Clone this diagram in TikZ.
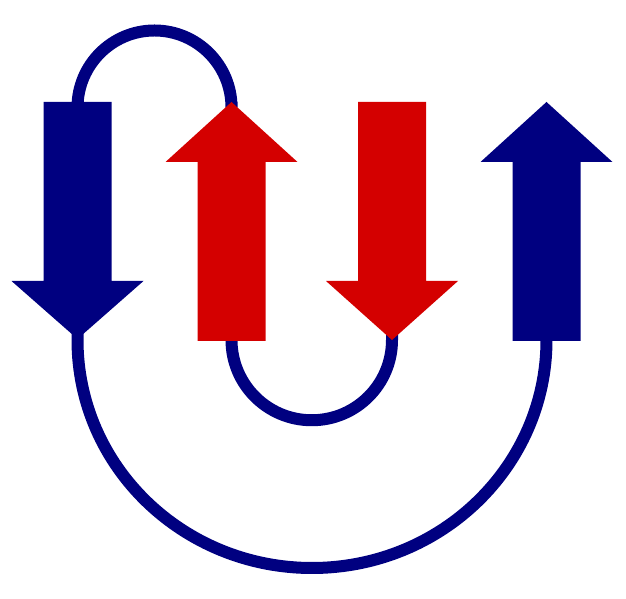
\documentclass[tikz,border=0pt]{standalone}
\usepackage{tikz}
\definecolor{navy}{RGB}{0,0,128}
\definecolor{strandred}{RGB}{212,0,0}
\begin{document}
\begin{tikzpicture}[x=1pt,y=1pt,
        strand/.style={fill=#1,draw=none},
        loop/.style={draw=navy,line width=12pt}]
\useasboundingbox (0,0) rectangle (626,599);

% ends of the strands
\coordinate (s1-n) at (77.5,497);
\coordinate (s1-s) at (77.5,260);
\coordinate (s2-n) at (231.5,497);
\coordinate (s2-s) at (231.5,259);
\coordinate (s3-s) at (392,259);
\coordinate (s4-s) at (546.5,258);

% loops
\draw[loop] (s1-n) -- ++(0,-5.5) arc[start angle=180,end angle=0,radius=77] -- (s2-n);
\draw[loop] (s2-s) ++(0,10) -- (s2-s) arc[start angle=180,end angle=360,radius=80.25]
    -- (s3-s) -- ++(0,20);
\draw[loop] (s1-s) ++(0,20) -- (s1-s) -- ++(0,-1)
    arc[start angle=180,end angle=360,x radius=234.5,y radius=228] -- (s4-s) -- ++(0,10);

% strands
\fill[strand=navy] (43.5,497) -- (111.5,497) -- (111.5,318) -- (143.5,318)
    -- (s1-s) -- (11.5,318) -- (43.5,318) -- cycle;
\fill[strand=strandred] (197.5,258) -- (265.5,258) -- (265.5,437) -- (297.5,437)
    -- (s2-n) -- (165.5,437) -- (197.5,437) -- cycle;
\fill[strand=strandred] (358,497) -- (426,497) -- (426,318) -- (458,318)
    -- (s3-s) -- (326,318) -- (358,318) -- cycle;
\fill[strand=navy] (512.5,258) -- (580.5,258) -- (580.5,437) -- (612.5,437)
    -- (546.5,497) -- (480.5,437) -- (512.5,437) -- cycle;
\end{tikzpicture}
\end{document}
